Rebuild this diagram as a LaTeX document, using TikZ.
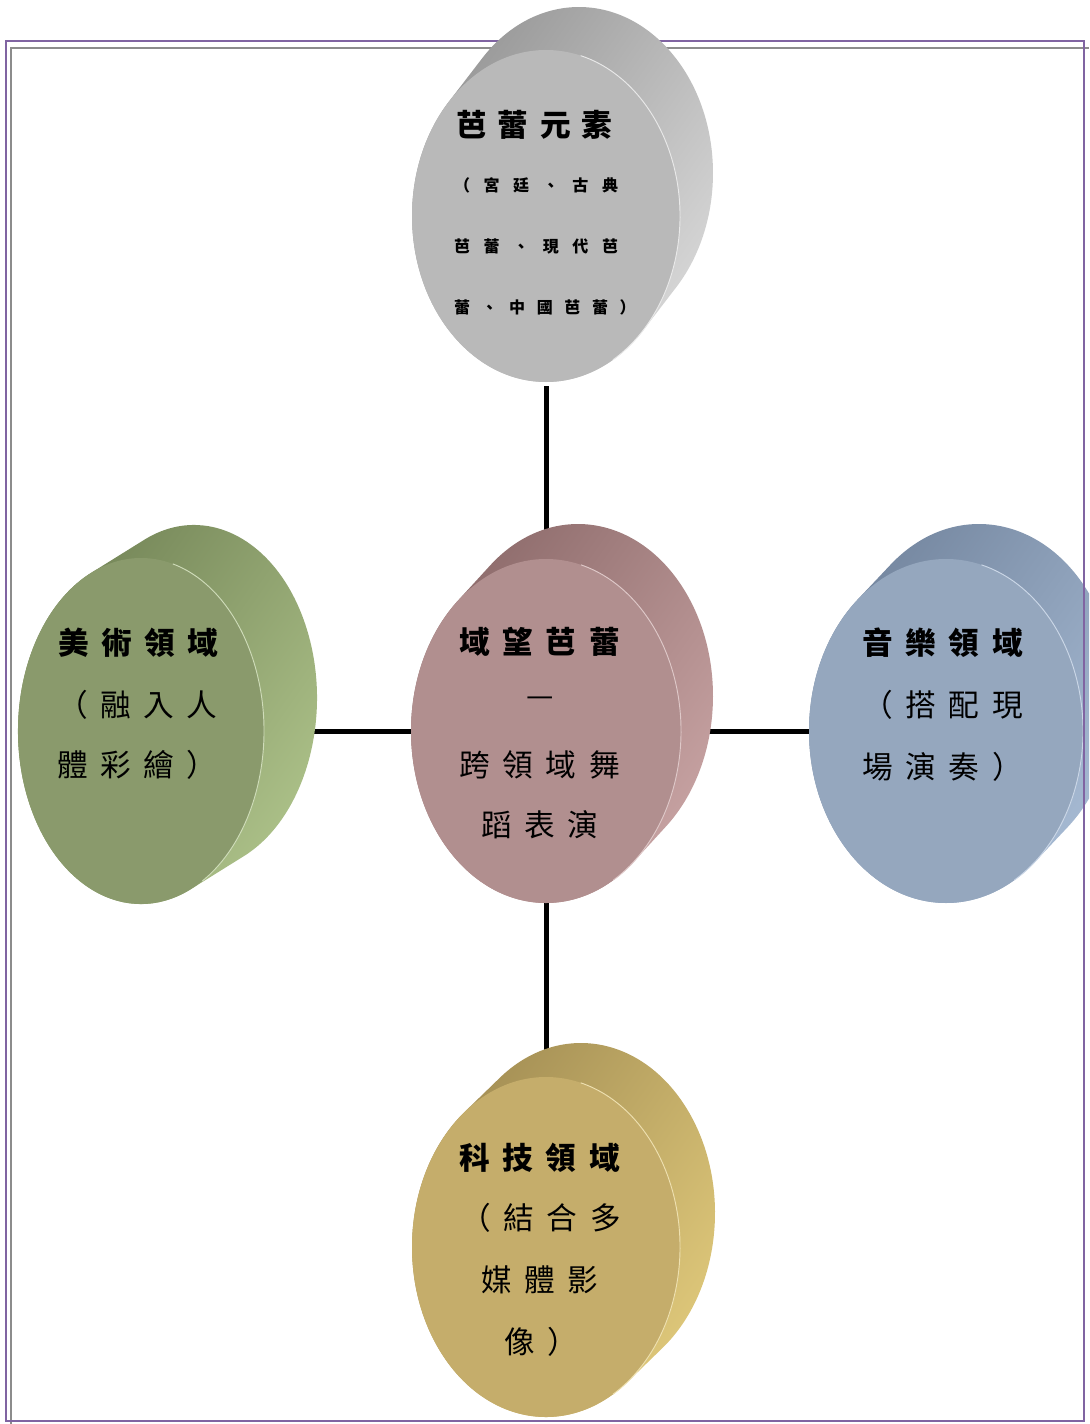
\documentclass[tikz,border=0pt]{standalone}
\usepackage{fontspec}
\newfontfamily\cjk{Noto Sans CJK TC}
\usetikzlibrary{shapes.geometric}
\pgfdeclarelayer{bg}
\pgfsetlayers{bg,main}
\newlength\cjgap
\newcommand\cjs{\hspace{\cjgap}}
\definecolor{gyf}{HTML}{B9B9B9}\definecolor{gyd}{HTML}{959595}\definecolor{gyl}{HTML}{DADADA}
\definecolor{pkf}{HTML}{B18F8F}\definecolor{pkd}{HTML}{8A6868}\definecolor{pkl}{HTML}{CAA5A5}
\definecolor{gnf}{HTML}{8A9A6C}\definecolor{gnd}{HTML}{708154}\definecolor{gnl}{HTML}{AFC48B}
\definecolor{blf}{HTML}{95A7BE}\definecolor{bld}{HTML}{71839C}\definecolor{bll}{HTML}{A9BDD6}
\definecolor{gdf}{HTML}{C5AD6B}\definecolor{gdd}{HTML}{A08B52}\definecolor{gdl}{HTML}{E2CB7C}
\definecolor{frpurple}{HTML}{8064A2}
\definecolor{frgray}{HTML}{8C8C8C}
% #1 name, #2 cx, #3 cy, #4 rx, #5 ry, #6 dx, #7 dy, #8 colour prefix
\newcommand\mydisc[8]{%
  \pgfmathsetmacro\dphi{atan2((#7)/(#5),(#6)/(#4))}%
  \pgfmathsetmacro\ta{\dphi+90}%
  \pgfmathsetmacro\tb{\dphi-90}%
  \pgfmathsetmacro\tc{\dphi-270}%
  \shade[top color=#8d, bottom color=#8l, shading angle=55] (#2,#3) ++(\ta:#4 and #5) -- ++(#6,#7)
     arc[start angle=\ta, end angle=\tb, x radius=#4, y radius=#5] -- ++({-(#6)},{-(#7)})
     arc[start angle=\tb, end angle=\tc, x radius=#4, y radius=#5] -- cycle;
  \node[ellipse, inner sep=0, outer sep=0, minimum width={1.5pt*#4}, minimum height={1.5pt*#5},
        fill=#8f] (#1) at (#2,#3) {};%
  \draw[#8l!60!white, line width=0.7pt] (#2,#3) ++(-75:#4 and #5)
     arc[start angle=-75, end angle=60, x radius=#4, y radius=#5];%
}
\begin{document}
\begin{tikzpicture}[x=0.75pt,y=-0.75pt,
  conn/.style={line width=3.75pt, black},
  txt/.style={anchor=west, inner sep=0, outer sep=0, font=\cjk\fontsize{23pt}{23pt}\selectfont},
  ttl/.style={txt, font=\cjk\bfseries\fontsize{23pt}{23pt}\selectfont},
  sml/.style={txt, font=\cjk\bfseries\fontsize{12pt}{12pt}\selectfont}]
\useasboundingbox (0,0) rectangle (1089,1424);
\clip (0,0) rectangle (1089,1424);
% frames
\draw[frgray, line width=1.6pt] (11,1424) -- (11,48) -- (1089,48);
\draw[frpurple, line width=1.8pt] (6,41) rectangle (1084,1421);
% discs
\mydisc{top}{546}{216}{134}{166}{33}{-43}{gy}
\mydisc{mid}{546}{731}{135}{172}{32}{-35}{pk}
\mydisc{lft}{141}{731}{123}{173}{53}{-33}{gn}
\mydisc{rgt}{946}{731}{137}{172}{33}{-35}{bl}
\mydisc{bot}{546}{1247}{134}{170}{35}{-34}{gd}
% purple frame edges lying over the discs
\draw[frpurple, line width=1.8pt] (1084,41) -- (1084,1421) -- (6,1421);
% connectors
\begin{pgfonlayer}{bg}
\draw[conn, shorten <=3pt] (top) -- (mid);
\draw[conn] (lft) -- (mid);
\draw[conn] (mid) -- (rgt);
\draw[conn] (mid) -- (bot);
\end{pgfonlayer}
% texts: top
\node[ttl] (a1) at (456,125) {\setlength\cjgap{8.5pt}芭\cjs 蕾\cjs 元\cjs 素};
\node[sml] (a2) at (454,185) {\setlength\cjgap{10.2pt}（\cjs 宮\cjs 廷\cjs 、\cjs 古\cjs 典};
\node[sml] (a3) at (454,246) {\setlength\cjgap{10.2pt}芭\cjs 蕾\cjs 、\cjs 現\cjs 代\cjs 芭};
\node[sml] (a4) at (454,307) {\setlength\cjgap{8.7pt}蕾\cjs 、\cjs 中\cjs 國\cjs 芭\cjs 蕾\cjs ）};
% centre
\node[ttl] (b1) at (459,642) {\setlength\cjgap{9.6pt}域\cjs 望\cjs 芭\cjs 蕾};
\node[txt, anchor=center] (b2) at (540,702) {—};
\node[txt] (b3) at (459,765) {\setlength\cjgap{9.6pt}跨\cjs 領\cjs 域\cjs 舞};
\node[txt] (b4) at (481,825) {\setlength\cjgap{9.6pt}蹈\cjs 表\cjs 演};
% left
\node[ttl] (c1) at (58,643) {\setlength\cjgap{9.3pt}美\cjs 術\cjs 領\cjs 域};
\node[txt] (c2) at (57,705) {\setlength\cjgap{9.3pt}（\cjs 融\cjs 入\cjs 人};
\node[txt] (c3) at (57,765) {\setlength\cjgap{9.3pt}體\cjs 彩\cjs 繪\cjs ）};
% right
\node[ttl] (d1) at (862,643) {\setlength\cjgap{9.6pt}音\cjs 樂\cjs 領\cjs 域};
\node[txt] (d2) at (862,705) {\setlength\cjgap{9.6pt}（\cjs 搭\cjs 配\cjs 現};
\node[txt] (d3) at (862,767) {\setlength\cjgap{9.6pt}場\cjs 演\cjs 奏\cjs ）};
% bottom
\node[ttl] (e1) at (459,1158) {\setlength\cjgap{9.6pt}科\cjs 技\cjs 領\cjs 域};
\node[txt] (e2) at (460,1218) {\setlength\cjgap{9.6pt}（\cjs 結\cjs 合\cjs 多};
\node[txt] (e3) at (481,1280) {\setlength\cjgap{9.6pt}媒\cjs 體\cjs 影};
\node[txt] (e4) at (504,1342) {\setlength\cjgap{9.6pt}像\cjs ）};
\end{tikzpicture}
\end{document}
